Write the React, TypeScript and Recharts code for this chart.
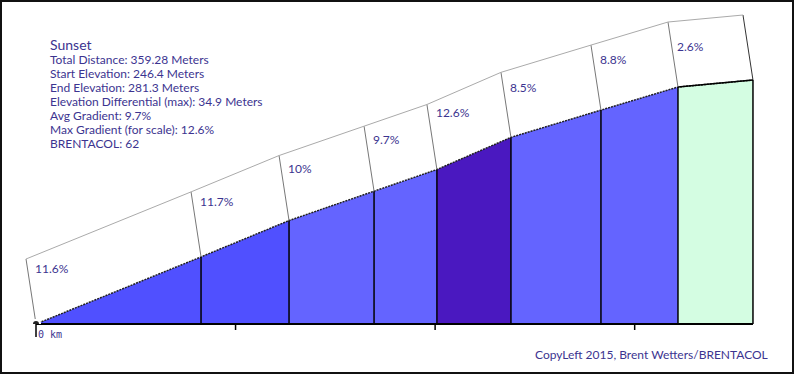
import {
  Area,
  ComposedChart,
  Line,
  ReferenceDot,
  ReferenceLine,
  XAxis,
  YAxis,
} from "recharts"

// segment boundaries along the climb (meters) and elevation at each boundary
const distances = [0, 82.7, 126.8, 169.4, 200.9, 238.0, 283.1, 321.7, 359.28]
const elevations = [246.4, 256.0, 261.2, 265.4, 268.5, 273.1, 277.0, 280.3, 281.3]
const gradients = ["11.6%", "11.7%", "10%", "9.7%", "12.6%", "8.5%", "8.8%", "2.6%"]
const segmentColors = [
  "#5050ff",
  "#5050ff",
  "#6464ff",
  "#6464ff",
  "#4a18c0",
  "#6464ff",
  "#6464ff",
  "#d4fde2",
]
const axisTicks = [0, 100, 200, 300]

const infoTitle = "Sunset"
const infoLines = [
  "Total Distance: 359.28 Meters",
  "Start Elevation: 246.4 Meters",
  "End Elevation: 281.3 Meters",
  "Elevation Differential (max): 34.9 Meters",
  "Avg Gradient: 9.7%",
  "Max Gradient (for scale): 12.6%",
  "BRENTACOL: 62",
]
const credit = "CopyLeft 2015, Brent Wetters/BRENTACOL"

const W = 794
const H = 374
const BASE = 246.4
const X_DOMAIN: [number, number] = [-18.04, 379.84]
const Y_DOMAIN: [number, number] = [246.4, 292.75]
// offset of the "slab" top edge, in data units
const SLAB_DX = -5.0
const SLAB_DY = 9.3

const TEXT = "#3c3490"
const FONT = "Lato, 'Open Sans', sans-serif"

const rows = distances.map((d, i) => {
  const row: Record<string, number> = { d, e: elevations[i] }
  if (i > 0) row[`s${i - 1}`] = elevations[i]
  if (i < gradients.length) row[`s${i}`] = elevations[i]
  return row
})

function AxisTick(props: any) {
  const { x, y, payload } = props
  if (payload.value === 0) {
    return (
      <g>
        <line x1={x} x2={x} y1={y} y2={y + 13} stroke="#000" strokeWidth={1.5} />
        <text
          x={x + 2}
          y={y + 14}
          fill={TEXT}
          fontSize={10}
          fontFamily="'DejaVu Sans Mono', monospace"
        >
          0 km
        </text>
      </g>
    )
  }
  return <line x1={x} x2={x} y1={y} y2={y + 6} stroke="#000" strokeWidth={1.5} />
}

export default function App() {
  return (
    <div
      style={{
        position: "absolute",
        left: 0,
        top: 0,
        width: W,
        height: H,
        background: "#fff",
        fontFamily: FONT,
      }}
    >
      <ComposedChart
        width={W}
        height={H}
        data={rows}
        margin={{ top: 0, right: 0, bottom: 0, left: 0 }}
      >
        <XAxis
          dataKey="d"
          type="number"
          domain={X_DOMAIN}
          allowDataOverflow
          ticks={axisTicks}
          axisLine={false}
          tickLine={false}
          tickSize={0}
          tickMargin={0}
          height={50}
          interval={0}
          tick={<AxisTick />}
        />
        <YAxis type="number" domain={Y_DOMAIN} allowDataOverflow hide />

        {gradients.map((_, i) => (
          <Area
            key={`s${i}`}
            dataKey={`s${i}`}
            type="linear"
            fill={segmentColors[i]}
            fillOpacity={1}
            stroke="none"
            baseValue={BASE}
            connectNulls={false}
            isAnimationActive={false}
          />
        ))}

        <Line
          dataKey="e"
          type="linear"
          stroke="#222"
          strokeWidth={1.5}
          strokeDasharray="2 1"
          dot={false}
          isAnimationActive={false}
        />

        {/* last segment top edge is solid */}
        <ReferenceLine
          segment={[
            { x: distances[7], y: elevations[7] },
            { x: distances[8], y: elevations[8] },
          ]}
          stroke="#000"
          strokeWidth={1.5}
        />

        {/* vertical segment boundaries */}
        {distances.slice(1).map((d, i) => (
          <ReferenceLine
            key={`v${i}`}
            segment={[
              { x: d, y: BASE },
              { x: d, y: elevations[i + 1] },
            ]}
            stroke="#000"
            strokeWidth={1.5}
          />
        ))}

        {/* slab: slanted dividers */}
        {distances.map((d, i) => (
          <ReferenceLine
            key={`sl${i}`}
            segment={[
              { x: d, y: elevations[i] },
              { x: d + SLAB_DX, y: elevations[i] + SLAB_DY },
            ]}
            stroke={i === distances.length - 1 ? "#333" : "#777"}
            strokeWidth={1}
          />
        ))}

        {/* slab: top edge */}
        {gradients.map((_, i) => (
          <ReferenceLine
            key={`t${i}`}
            segment={[
              { x: distances[i] + SLAB_DX, y: elevations[i] + SLAB_DY },
              { x: distances[i + 1] + SLAB_DX, y: elevations[i + 1] + SLAB_DY },
            ]}
            stroke="#aaa"
            strokeWidth={1}
          />
        ))}

        {/* base axis line */}
        <ReferenceLine
          segment={[
            { x: 0, y: BASE },
            { x: distances[distances.length - 1], y: BASE },
          ]}
          stroke="#000"
          strokeWidth={2}
        />

        {gradients.map((g, i) => (
          <ReferenceDot
            key={`g${i}`}
            x={distances[i] + SLAB_DX}
            y={elevations[i] + SLAB_DY}
            r={0}
            shape={(p: any) => (
              <text
                x={p.cx + 9}
                y={p.cy + 33.5 - 1.65 * parseFloat(g)}
                fill={TEXT}
                fontSize={12}
                fontFamily={FONT}
              >
                {g}
              </text>
            )}
          />
        ))}
      </ComposedChart>

      <div
        style={{
          position: "absolute",
          left: 50,
          top: 36,
          color: TEXT,
          fontSize: 12,
          lineHeight: "14px",
        }}
      >
        <div style={{ fontSize: 14, lineHeight: "17px" }}>{infoTitle}</div>
        {infoLines.map((l) => (
          <div key={l}>{l}</div>
        ))}
      </div>

      <div
        style={{
          position: "absolute",
          left: 535,
          top: 347,
          color: TEXT,
          fontSize: 12,
          lineHeight: "16px",
          whiteSpace: "nowrap",
        }}
      >
        {credit}
      </div>

      <div
        style={{
          position: "absolute",
          left: 0,
          top: 0,
          width: W,
          height: H,
          boxSizing: "border-box",
          border: "2px solid #111",
          pointerEvents: "none",
        }}
      />
    </div>
  )
}
